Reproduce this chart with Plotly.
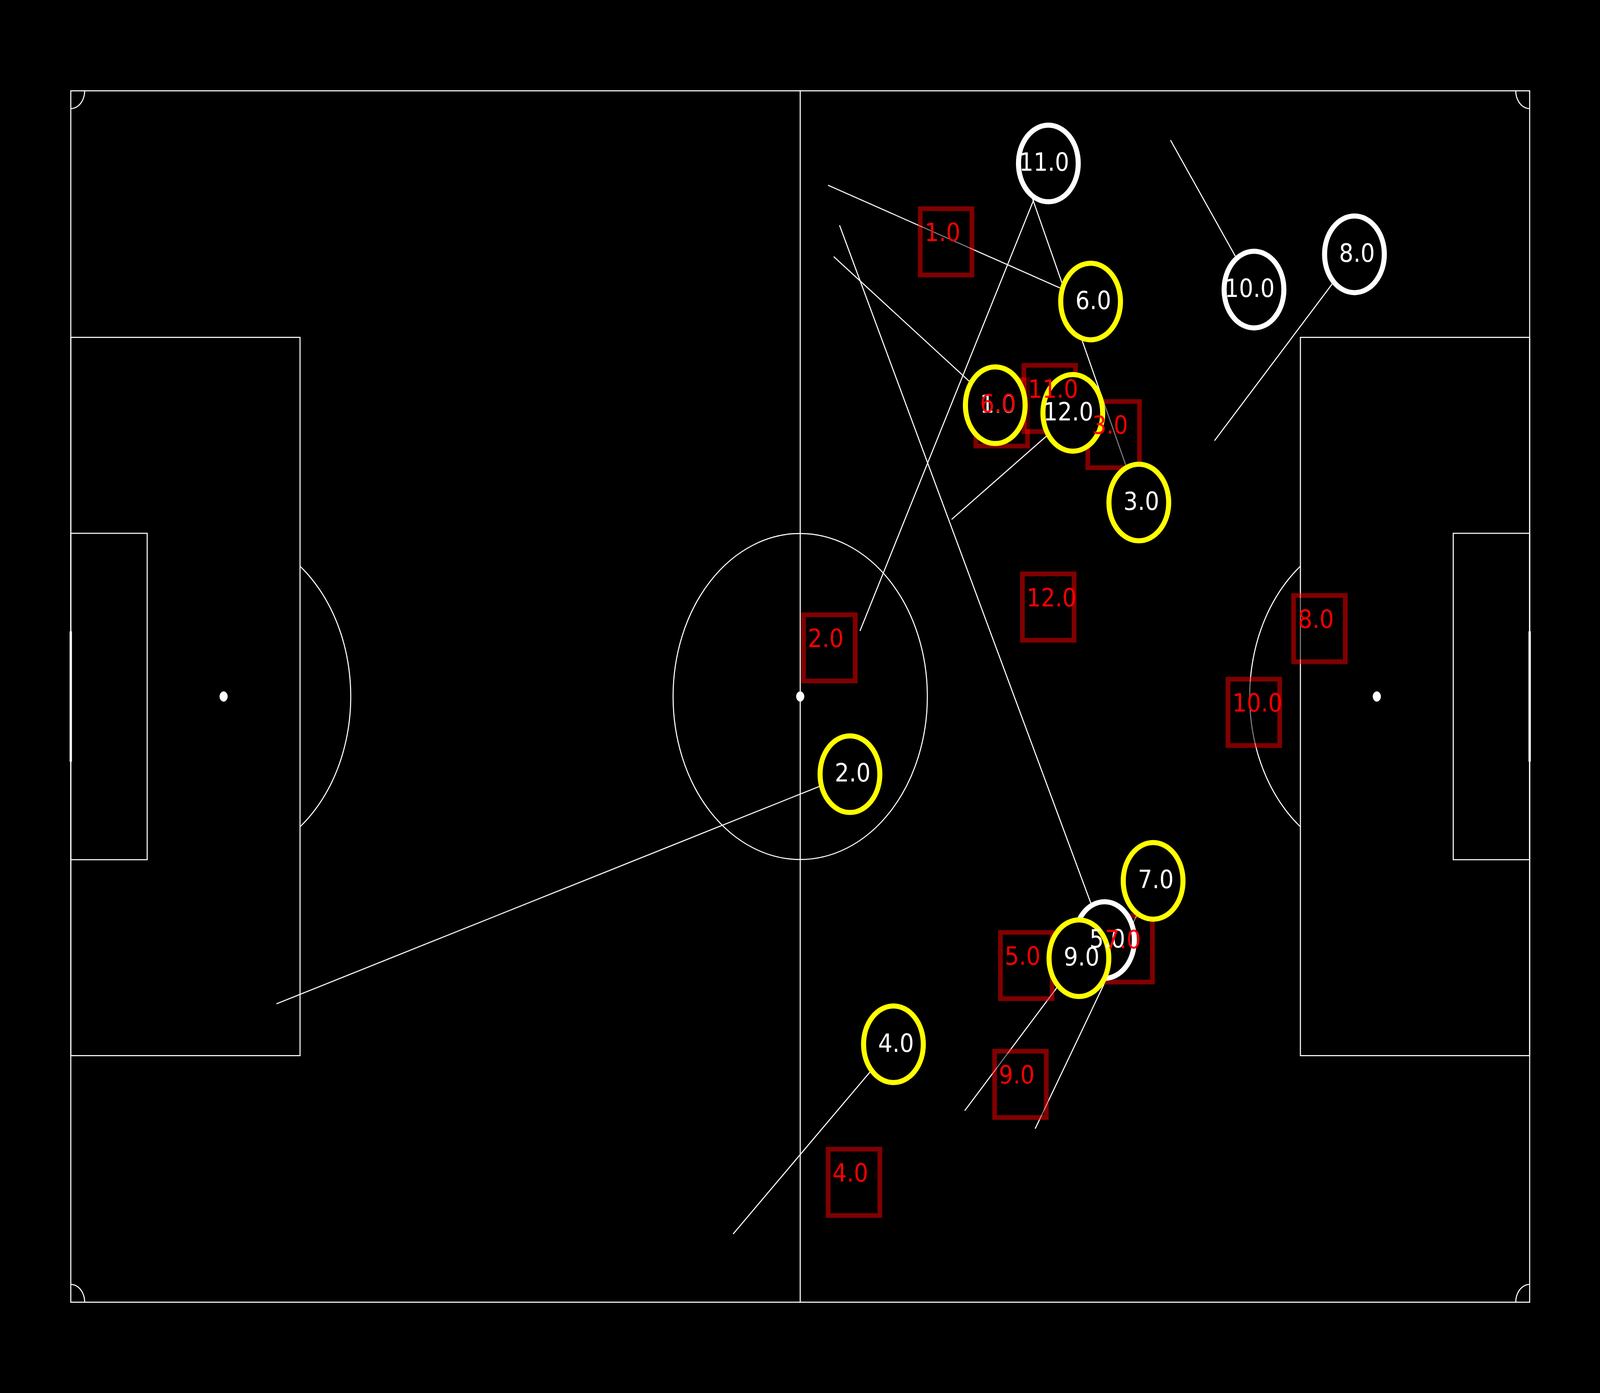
import numpy as np
import plotly.graph_objects as go

# yellow players: shirt number, position and end of their line (metres, 105 x 68 pitch)
home_num = ["1.0", "2.0", "3.0", "4.0", "6.0", "7.0", "9.0", "12.0"]
home_x = [66.54, 56.08, 76.87, 59.21, 73.40, 77.90, 72.56, 72.12]
home_y = [50.35, 29.64, 44.89, 14.48, 56.17, 23.65, 19.31, 49.92]
home_end_x = [54.91, 14.80, 68.83, 47.67, 54.50, 69.41, 64.34, 63.40]
home_end_y = [58.69, 16.75, 62.81, 3.83, 62.70, 9.74, 10.75, 43.94]

# white players
away_num = ["5.0", "8.0", "10.0", "11.0"]
away_x = [74.40, 92.39, 85.16, 70.36]
away_y = [20.33, 58.82, 56.84, 63.92]
away_end_x = [55.33, 82.32, 79.15, 56.80]
away_end_y = [60.45, 48.36, 65.23, 37.68]

# red squares
target_num = ["1.0", "2.0", "3.0", "4.0", "5.0", "6.0", "7.0", "8.0", "9.0", "10.0", "11.0", "12.0"]
target_x = [63.00, 54.60, 75.06, 56.37, 68.77, 67.00, 75.99, 89.87, 68.35, 85.15, 70.46, 70.35]
target_y = [59.52, 36.73, 48.70, 6.73, 18.90, 49.92, 19.83, 37.81, 12.23, 33.11, 50.73, 39.02]

PL, PW = 105, 68
R_CIRCLE = 2.15   # player ring radius, metres
R_SQUARE = 1.86   # half side of the squares, metres
LINE = dict(color="white", width=2.7)
FONT = "DejaVu Sans Condensed, DejaVu Sans"


def arc_path(cx, cy, r, a0, a1, n=60):
    t = np.radians(np.linspace(a0, a1, n))
    xs = cx + r * np.cos(t)
    ys = cy + r * np.sin(t)
    return "M " + " L ".join(f"{x:.4f},{y:.4f}" for x, y in zip(xs, ys))


shapes = []
def rect(x0, y0, x1, y1):
    shapes.append(dict(type="rect", x0=x0, y0=y0, x1=x1, y1=y1, line=LINE, layer="below"))

# pitch
rect(0, 0, PL, PW)
shapes.append(dict(type="line", x0=PL / 2, y0=0, x1=PL / 2, y1=PW, line=LINE, layer="below"))
shapes.append(dict(type="circle", x0=PL / 2 - 9.15, y0=PW / 2 - 9.15, x1=PL / 2 + 9.15, y1=PW / 2 + 9.15,
                   line=LINE, layer="below"))
rect(0, PW / 2 - 20.16, 16.5, PW / 2 + 20.16)
rect(PL - 16.5, PW / 2 - 20.16, PL, PW / 2 + 20.16)
rect(0, PW / 2 - 9.16, 5.5, PW / 2 + 9.16)
rect(PL - 5.5, PW / 2 - 9.16, PL, PW / 2 + 9.16)
ang = np.degrees(np.arccos(5.5 / 9.15))
shapes.append(dict(type="path", path=arc_path(11, PW / 2, 9.15, -ang, ang), line=LINE, layer="below"))
shapes.append(dict(type="path", path=arc_path(PL - 11, PW / 2, 9.15, 180 - ang, 180 + ang), line=LINE, layer="below"))
for cx, cy, a0 in [(0, 0, 0), (PL, 0, 90), (PL, PW, 180), (0, PW, 270)]:
    shapes.append(dict(type="path", path=arc_path(cx, cy, 1, a0, a0 + 90, 20), line=LINE, layer="below"))
for sx in [11, PL / 2, PL - 11]:
    shapes.append(dict(type="circle", x0=sx - 0.28, y0=PW / 2 - 0.28, x1=sx + 0.28, y1=PW / 2 + 0.28,
                       fillcolor="white", line=dict(color="white", width=1), layer="below"))
for gx in [0, PL]:
    shapes.append(dict(type="line", x0=gx, y0=PW / 2 - 3.66, x1=gx, y1=PW / 2 + 3.66,
                       line=dict(color="white", width=6), layer="below"))

# squares, then white rings, then yellow rings (drawn over the lines)
for x, y in zip(target_x, target_y):
    shapes.append(dict(type="rect", x0=x - R_SQUARE, x1=x + R_SQUARE, y0=y - R_SQUARE, y1=y + R_SQUARE,
                       fillcolor="black", line=dict(color="red", width=12), opacity=0.5, layer="above"))
for x, y in zip(away_x, away_y):
    shapes.append(dict(type="circle", x0=x - R_CIRCLE, x1=x + R_CIRCLE, y0=y - R_CIRCLE, y1=y + R_CIRCLE,
                       fillcolor="black", line=dict(color="white", width=13), layer="above"))
for x, y in zip(home_x, home_y):
    shapes.append(dict(type="circle", x0=x - R_CIRCLE, x1=x + R_CIRCLE, y0=y - R_CIRCLE, y1=y + R_CIRCLE,
                       fillcolor="black", line=dict(color="yellow", width=13), layer="above"))

fig = go.Figure()

lx, ly = [], []
for x, y, ex, ey in zip(home_x + away_x, home_y + away_y, home_end_x + away_end_x, home_end_y + away_end_y):
    lx += [x, ex, None]
    ly += [y, ey, None]
fig.add_trace(go.Scatter(x=lx, y=ly, mode="lines", line=dict(color="white", width=2.7), hoverinfo="skip"))

annotations = []
for n, x, y in zip(away_num + home_num, away_x + home_x, away_y + home_y):
    annotations.append(dict(x=x, y=y, text=n, showarrow=False, xanchor="right", yanchor="middle",
                            xshift=55, yshift=3, font=dict(color="white", size=64, family=FONT)))
for n, x, y in zip(target_num, target_x, target_y):
    annotations.append(dict(x=x, y=y, text=n, showarrow=False, xanchor="left", yanchor="middle",
                            xshift=-57, yshift=24, font=dict(color="red", size=64, family=FONT)))

fig.update_layout(
    width=4096, height=3565,
    margin=dict(l=0, r=0, t=0, b=0, pad=0),
    paper_bgcolor="black", plot_bgcolor="black",
    showlegend=False,
    shapes=shapes,
    annotations=annotations,
    xaxis=dict(range=[-5.094, 110.063], visible=False, showgrid=False, zeroline=False),
    yaxis=dict(range=[-5.095, 73.095], visible=False, showgrid=False, zeroline=False),
)

fig.write_html("out.html", config={"displayModeBar": False},
               post_script="document.body.style.margin='0';document.body.style.background='black';")
